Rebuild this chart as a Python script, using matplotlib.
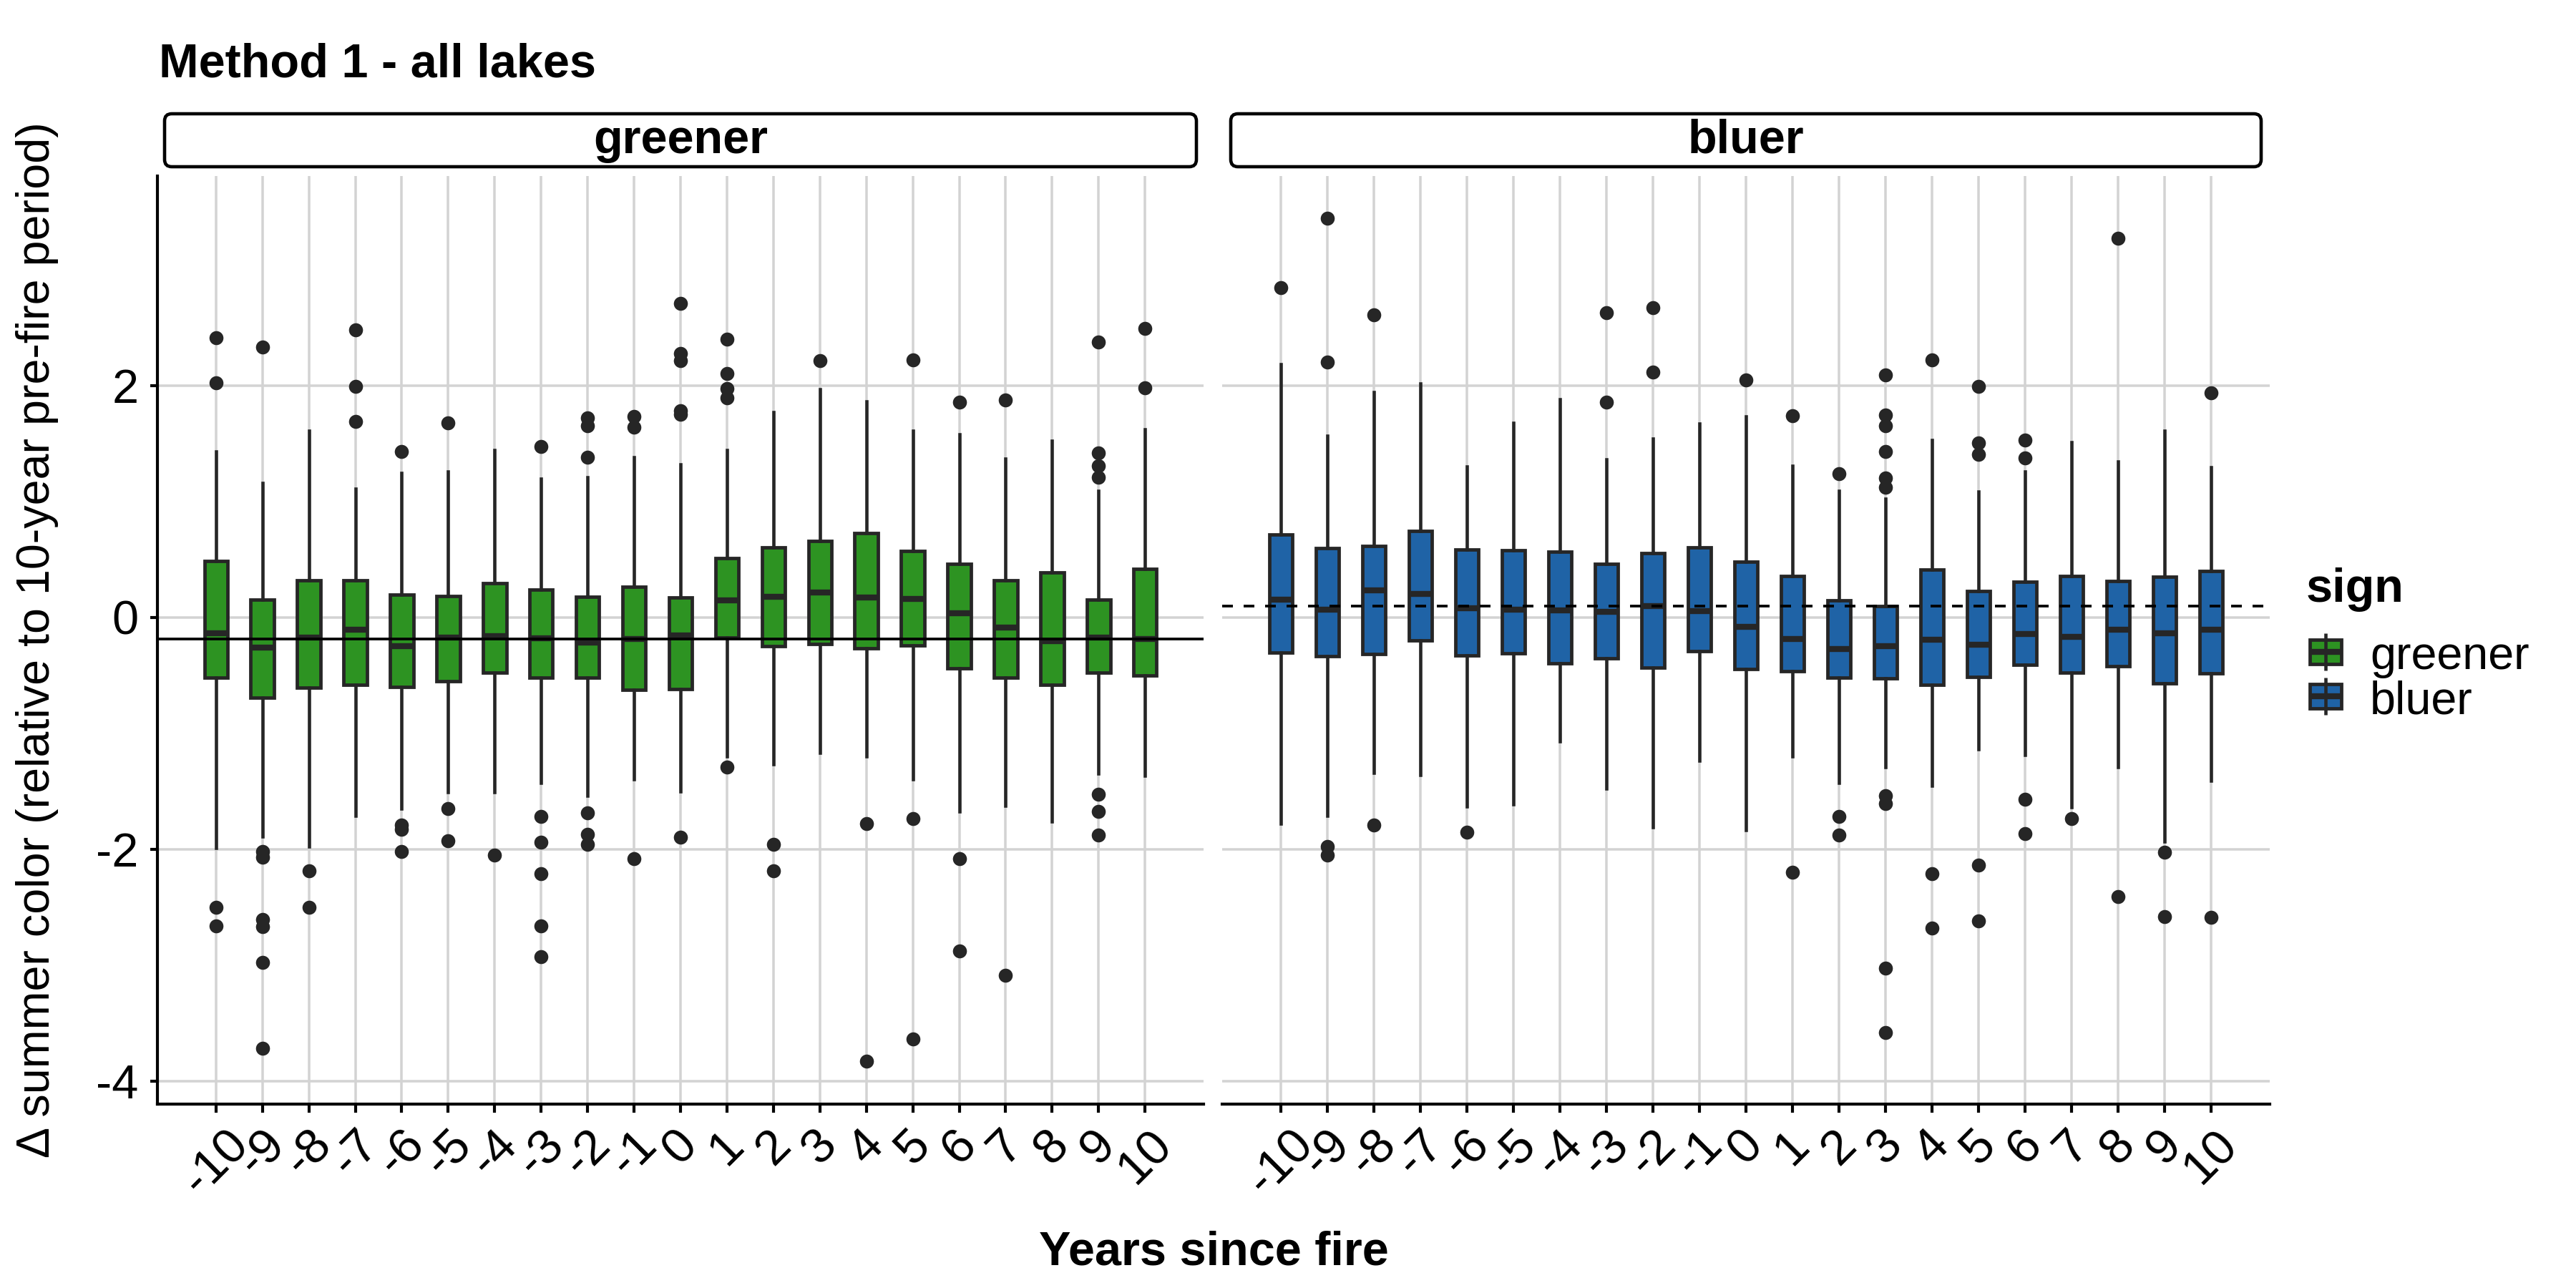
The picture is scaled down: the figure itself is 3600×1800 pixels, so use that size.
import matplotlib
matplotlib.use("Agg")
import matplotlib.pyplot as plt
from matplotlib.patches import FancyBboxPatch, Rectangle

plt.rcParams["font.family"] = ["Liberation Sans", "DejaVu Sans"]
plt.rcParams["axes.unicode_minus"] = False

years = list(range(-10, 11))
panels = ["greener", "bluer"]

# greener panel: box statistics
green_q1 = [-0.523, -0.694, -0.606, -0.584, -0.60, -0.55, -0.479, -0.523, -0.518, -0.628, -0.62,
            -0.176, -0.248, -0.231, -0.27, -0.242, -0.44, -0.523, -0.584, -0.479, -0.50]
green_med = [-0.138, -0.264, -0.176, -0.105, -0.248, -0.176, -0.165, -0.18, -0.22, -0.187, -0.154,
             0.143, 0.176, 0.215, 0.171, 0.16, 0.033, -0.088, -0.209, -0.176, -0.187]
green_q3 = [0.485, 0.154, 0.32, 0.32, 0.198, 0.18, 0.292, 0.24, 0.176, 0.264, 0.17,
            0.507, 0.60, 0.656, 0.727, 0.573, 0.463, 0.32, 0.386, 0.154, 0.419]
green_wlo = [-1.99, -1.89, -1.98, -1.71, -1.65, -1.51, -1.51, -1.43, -1.54, -1.40, -1.50,
             -1.20, -1.27, -1.17, -1.20, -1.40, -1.675, -1.625, -1.763, -1.35, -1.366]
green_whi = [1.43, 1.16, 1.61, 1.11, 1.245, 1.256, 1.44, 1.196, 1.21, 1.38, 1.32,
             1.44, 1.77, 1.967, 1.86, 1.61, 1.576, 1.37, 1.52, 1.09, 1.62]
green_out = [
    [2.41, 2.02, -2.50, -2.66],
    [2.33, -2.02, -2.07, -2.61, -2.67, -2.98, -3.72],
    [-2.19, -2.50],
    [2.48, 1.99, 1.69],
    [1.43, -1.79, -1.83, -2.02],
    [1.675, -1.65, -1.93],
    [-2.05],
    [1.47, -1.72, -1.94, -2.21, -2.66, -2.93],
    [1.72, 1.65, 1.38, -1.69, -1.87, -1.96],
    [1.735, 1.64, -2.08],
    [2.705, 2.275, 2.215, 1.78, 1.75, -1.895],
    [2.40, 2.10, 1.97, 1.89, -1.29],
    [-1.96, -2.19],
    [2.215],
    [-1.78, -3.83],
    [2.22, -1.736, -3.64],
    [1.857, -2.08, -2.88],
    [1.873, -3.09],
    [],
    [2.375, 1.42, 1.306, 1.206, -1.526, -1.675, -1.88],
    [2.49, 1.98],
]

# bluer panel
blue_q1 = [-0.303, -0.336, -0.32, -0.198, -0.33, -0.314, -0.397, -0.353, -0.435, -0.292, -0.446,
           -0.468, -0.523, -0.529, -0.584, -0.512, -0.413, -0.479, -0.424, -0.573, -0.485]
blue_med = [0.149, 0.066, 0.231, 0.204, 0.077, 0.066, 0.06, 0.044, 0.094, 0.055, -0.083,
            -0.187, -0.275, -0.248, -0.193, -0.237, -0.143, -0.171, -0.11, -0.138, -0.11]
blue_q3 = [0.716, 0.595, 0.617, 0.744, 0.584, 0.578, 0.567, 0.463, 0.556, 0.60, 0.479,
           0.353, 0.143, 0.099, 0.408, 0.226, 0.303, 0.358, 0.314, 0.347, 0.397]
blue_wlo = [-1.78, -1.71, -1.344, -1.36, -1.63, -1.614, -1.07, -1.48, -1.81, -1.24, -1.835,
            -1.20, -1.43, -1.295, -1.455, -1.14, -1.185, -1.636, -1.295, -1.934, -1.41]
blue_whi = [2.18, 1.565, 1.94, 2.017, 1.30, 1.675, 1.88, 1.36, 1.54, 1.67, 1.735,
            1.306, 1.09, 1.02, 1.53, 1.085, 1.256, 1.51, 1.344, 1.61, 1.295]
blue_out = [
    [2.84],
    [3.44, 2.20, -1.98, -2.05],
    [2.61, -1.79],
    [],
    [-1.857],
    [],
    [],
    [2.63, 1.857],
    [2.67, 2.116],
    [],
    [2.044],
    [1.74, -2.20],
    [1.24, -1.72, -1.88],
    [2.09, 1.747, 1.65, 1.43, 1.20, 1.12, -1.54, -1.61, -3.03, -3.58],
    [2.22, -2.21, -2.68],
    [1.994, 1.504, 1.405, -2.14, -2.62],
    [1.526, 1.377, -1.57, -1.868],
    [-1.74],
    [3.27, -2.41],
    [-2.03, -2.58],
    [1.934, -2.59],
]

# reference lines (pre-fire level per panel)
ref_level = {"greener": -0.187, "bluer": 0.094}

GREEN = "#2D9322"
BLUE = "#1F63A6"
DARK = "#262626"
GRID = "#D3D3D3"


def box_stats(q1, med, q3, wlo, whi, out):
    return [
        {"q1": a, "med": m, "q3": b, "whislo": lo, "whishi": hi, "fliers": f}
        for a, m, b, lo, hi, f in zip(q1, med, q3, wlo, whi, out)
    ]


fig = plt.figure(figsize=(12, 6), dpi=300)
W, H = 3600, 1800


def px_axes(x0, y0, x1, y1):
    # pixel box (from top-left) -> figure fraction rect
    return [x0 / W, 1 - y1 / H, (x1 - x0) / W, (y1 - y0) / H]


ax_g = fig.add_axes(px_axes(220, 246, 1682, 1543))
ax_b = fig.add_axes(px_axes(1708, 246, 3172, 1543))

panel_data = {
    "greener": (ax_g, GREEN, box_stats(green_q1, green_med, green_q3, green_wlo, green_whi, green_out)),
    "bluer": (ax_b, BLUE, box_stats(blue_q1, blue_med, blue_q3, blue_wlo, blue_whi, blue_out)),
}

for name in panels:
    ax, color, stats = panel_data[name]
    ax.bxp(
        stats,
        positions=years,
        widths=0.5,
        patch_artist=True,
        showcaps=False,
        boxprops=dict(facecolor=color, edgecolor=DARK, linewidth=1.15),
        medianprops=dict(color=DARK, linewidth=2.0, solid_capstyle="butt"),
        whiskerprops=dict(color=DARK, linewidth=1.1),
        flierprops=dict(marker="o", markersize=4.7, markerfacecolor=DARK, markeredgecolor="none"),
        manage_ticks=False,
        zorder=3,
    )
    if name == "greener":
        ax.axhline(ref_level[name], color="black", linewidth=0.9, zorder=4)
    else:
        ax.axhline(ref_level[name], color="black", linewidth=0.9, linestyle=(0, (4, 4)), zorder=4)

    ax.set_xlim(-11.26, 11.26)
    ax.set_ylim(-4.20, 3.806)
    ax.set_xticks(years)
    ax.set_xticklabels([str(y) for y in years], rotation=45, ha="center", va="top", fontsize=16.5)
    ax.set_yticks([-4, -2, 0, 2])
    ax.grid(True, color=GRID, linewidth=0.85, zorder=0)
    ax.set_axisbelow(True)
    for side in ["top", "right"]:
        ax.spines[side].set_visible(False)
    ax.spines["bottom"].set_linewidth(1.0)
    ax.tick_params(axis="x", length=2.9, width=1.0, pad=3.0, colors="black")
    ax.tick_params(axis="y", length=2.4, width=1.0, pad=4.0, labelsize=16, colors="black")

ax_b.spines["left"].set_visible(False)
ax_b.tick_params(axis="y", left=False, labelleft=False)
ax_g.spines["left"].set_linewidth(1.0)

# overlay in pixel coordinates for title, strips, axis titles and legend
ov = fig.add_axes([0, 0, 1, 1])
ov.set_xlim(0, W)
ov.set_ylim(H, 0)
ov.set_axis_off()

ov.text(222, 108, "Method 1 - all lakes", fontsize=16, fontweight="bold", ha="left", va="baseline")

strips = {"greener": (230, 1672), "bluer": (1720, 3160)}
for name in panels:
    x0, x1 = strips[name]
    ov.add_patch(FancyBboxPatch((x0, 159), x1 - x0, 74,
                                boxstyle="round,pad=0,rounding_size=10",
                                facecolor="white", edgecolor="black", linewidth=1.1))
    ov.text((x0 + x1) / 2, 197, name, fontsize=16, fontweight="bold", ha="center", va="center")

ov.text(1696, 1768, "Years since fire", fontsize=16, fontweight="bold", ha="center", va="baseline")
ov.text(52, 894, "\u0394 summer color (relative to 10-year pre-fire period)", fontsize=15.5,
        rotation=90, ha="center", va="center")

# legend
ov.text(3223, 841, "sign", fontsize=16, fontweight="bold", ha="left", va="baseline")
legend_rows = [("greener", GREEN, 911, 935), ("bluer", BLUE, 973, 997)]
for label, color, yc, base in legend_rows:
    ov.plot([3250, 3250], [yc - 26, yc + 26], color=DARK, linewidth=1.1, solid_capstyle="butt")
    ov.add_patch(Rectangle((3228, yc - 17), 44, 34, facecolor=color, edgecolor=DARK, linewidth=1.15))
    ov.plot([3228, 3272], [yc, yc], color=DARK, linewidth=2.0, solid_capstyle="butt")
    ov.text(3312, base, label, fontsize=15.5, ha="left", va="baseline")

fig.savefig("out.png", dpi=300)
